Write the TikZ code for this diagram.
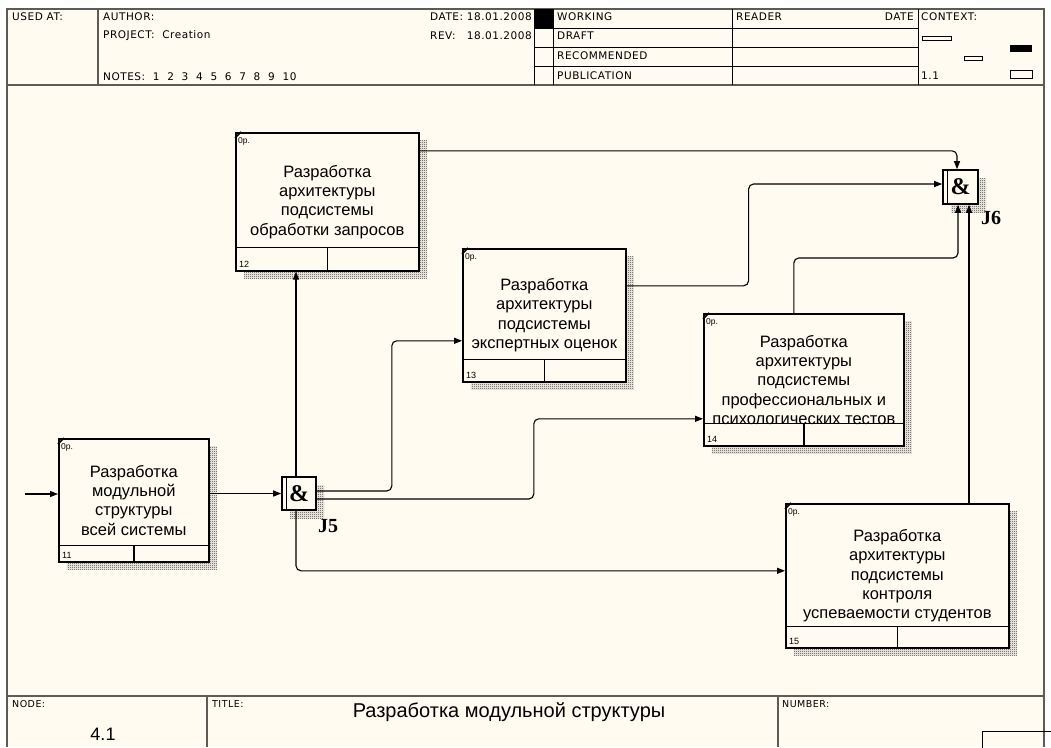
\documentclass[tikz,border=0pt]{standalone}
\usepackage{fontspec}
\setmainfont{Liberation Sans}
\newfontfamily\formfont{DejaVu Sans}[LetterSpace=5]
\newfontfamily\jfont{Liberation Serif}
\usepackage{tikz}
\usetikzlibrary{arrows.meta,calc,positioning,shadows,patterns.meta}
\definecolor{idefbg}{HTML}{FFFBF0}
\definecolor{framegray}{HTML}{5E5A55}

\tikzdeclarepattern{
  name=stipple,
  type=uncolored,
  bottom left={(0pt,0pt)},
  top right={(2pt,2pt)},
  tile size={(2pt,2pt)},
  code={
    \pgfpathrectangle{\pgfpointorigin}{\pgfpoint{1pt}{1pt}}
    \pgfpathrectangle{\pgfpoint{1pt}{1pt}}{\pgfpoint{1pt}{1pt}}
    \pgfusepath{fill}
  }
}

\tikzset{
  hatchshadow/.style={drop shadow={shadow xshift=8pt,shadow yshift=-8pt,opacity=1,
      pattern=stipple,pattern color=black!80}},
  actbox/.style={draw,line width=1.6pt,fill=idefbg,anchor=north west,inner sep=2pt,
      align=center,font=\fontsize{16.5}{19.3}\selectfont,hatchshadow},
  junc/.style={draw,line width=1.6pt,fill=idefbg,inner sep=0pt,
      font=\jfont\bfseries\fontsize{24}{24}\selectfont,hatchshadow},
  jlabel/.style={anchor=north west,inner sep=0pt,font=\jfont\bfseries\fontsize{20}{20}\selectfont},
  flow/.style={draw,line width=1.1pt,rounded corners=5pt,-{Triangle[length=8pt,width=6pt]}},
  frame/.style={draw=framegray,line width=1.8pt},
  tabline/.style={draw,line width=1pt},
  form/.style={anchor=west,inner sep=0pt,font=\formfont\fontsize{10.5}{12}\selectfont},
  foot/.style={anchor=west,inner sep=0pt,font=\formfont\fontsize{9.5}{11}\selectfont}
}

\begin{document}
\begin{tikzpicture}[x=1pt,y=-1pt]
  \useasboundingbox (0,0) rectangle (1051,747);
  \fill[white] (0,0) rectangle (1051,747);
  \fill[idefbg] (7,9) rectangle (1044,747);

  % form frame
  \draw[frame] (7,747) -- (7,9) -- (1044,9) -- (1044,747);
  \draw[frame] (7,85) -- (1044,85);
  \draw[frame] (7,696) -- (1044,696);
  \draw[frame] (98,9) -- (98,85);
  \draw[frame] (207,696) -- (207,747);
  \draw[frame] (778,696) -- (778,747);
  \fill (534,9) rectangle (553,28);
  \foreach \x in {534,553,732,918}
    \draw[tabline] (\x,9) -- (\x,85);
  \foreach \y in {28,47,66}
    \draw[tabline] (534,\y) -- (918,\y);
  \draw[tabline] (922,36) rectangle (951,40);
  \draw[tabline] (964,56) rectangle (982,60);
  \fill (1010,45) rectangle (1032,52);
  \draw[tabline] (1010,70) rectangle (1032,78);
  \draw[tabline] (982,731) rectangle (1060,760);

  \node[form] (usedat) at (12,17) {USED AT:};
  \node[form] (author) at (103,17) {AUTHOR:};
  \node[form] (project) at (103,36) {PROJECT:\ \ Creation};
  \node[form] (notes) at (103,77) {NOTES:\ \ 1\ \ 2\ \ 3\ \ 4\ \ 5\ \ 6\ \ 7\ \ 8\ \ 9\ \ 10};
  \node[form] (date) at (430,17) {DATE:};
  \node[form,anchor=east] (datev) at (532,17) {18.01.2008};
  \node[form] (rev) at (430,36) {REV:};
  \node[form,anchor=east] (revv) at (532,36) {18.01.2008};
  \node[form] (working) at (557,17) {WORKING};
  \node[form] (draft) at (557,36) {DRAFT};
  \node[form] (recomm) at (557,56) {RECOMMENDED};
  \node[form] (public) at (557,76) {PUBLICATION};
  \node[form] (reader) at (736,17) {READER};
  \node[form,anchor=east] (rdate) at (914,17) {DATE};
  \node[form] (context) at (921,17) {CONTEXT:};
  \node[form] (ctxnum) at (921,76) {1.1};

  \node[foot] (nodelbl) at (12,704) {NODE:};
  \node[foot] (titlelbl) at (212,704) {TITLE:};
  \node[foot] (numlbl) at (782,704) {NUMBER:};
  \node[inner sep=0pt,font=\fontsize{18}{18}\selectfont] (nodenum) at (103,734) {4.1};
  \node[inner sep=0pt,font=\fontsize{20}{20}\selectfont] (title) at (509,712) {Разработка модульной структуры};

  % activities
  \node[actbox,minimum width=150pt,minimum height=123pt] (b11) at (58,438)
    {Разработка\\модульной\\структуры\\всей системы};
  \node[actbox,minimum width=183pt,minimum height=138pt] (b12) at (235,132)
    {Разработка\\архитектуры\\подсистемы\\обработки запросов};
  \node[actbox,minimum width=163pt,minimum height=133pt] (b13) at (462,248)
    {Разработка\\архитектуры\\подсистемы\\экспертных оценок};
  \node[actbox,minimum width=200pt,minimum height=132pt] (b14) at (703,313)
    {Разработка\\архитектуры\\подсистемы\\профессиональных и\\психологических тестов};
  \node[actbox,minimum width=223pt,minimum height=144pt] (b15) at (785,503)
    {Разработка\\архитектуры\\подсистемы\\контроля\\успеваемости студентов};

  \foreach \b/\n/\d in {b11/11/17,b12/12/24,b13/13/23,b14/14/23,b15/15/22} {
    \draw[line width=1.6pt] ([yshift=\d pt]\b.south west) -- ([yshift=\d pt]\b.south east);
    \draw[line width=1.6pt] (\b.south) -- ([yshift=\d pt]\b.south);
    \draw[line width=1.6pt] ([yshift=-6pt]\b.north west) -- ([xshift=6pt]\b.north west);
    \node[anchor=west,inner sep=0pt,font=\fontsize{9}{9}\selectfont] (\b-num)
      at ([xshift=4pt,yshift=7pt]\b.south west) {\n};
    \node[anchor=west,inner sep=0pt,font=\fontsize{8.5}{9}\selectfont] (\b-cost)
      at ([xshift=3pt,yshift=-9pt]\b.north west) {0р.};
  }

  % junctions
  \node[junc,minimum width=34pt,minimum height=33pt] (j5) at (299,493.5) {\&};
  \node[junc,minimum width=35pt,minimum height=34pt] (j6) at (960.5,187) {\&};
  \foreach \j in {j5,j6}
    \draw[line width=1.3pt] ([xshift=5pt]\j.north west) -- ([xshift=5pt]\j.south west);
  \node[jlabel] (j5-lbl) at ([xshift=1pt,yshift=-8pt]j5.south east) {J5};
  \node[jlabel] (j6-lbl) at ([xshift=2pt,yshift=-6pt]j6.south east) {J6};

  % arrows
  \coordinate (in0) at (25,494);
  \draw[flow] (in0) -- (b11.west |- in0);
  \draw[flow] (b11.east |- j5.west) -- (j5.west);
  \draw[flow] ([xshift=-3pt]j5.north) -- ([xshift=-3pt]j5.north |- b12.south);
  \draw[flow] ([xshift=-3pt]j5.south) |- ([yshift=5pt]b15.west);
  \draw[flow] ([yshift=2.5pt]j5.east) -- ++(75,0) |- ([yshift=-25.5pt]b13.west);
  \draw[flow] ([yshift=-5.5pt]j5.east) -- ++(217,0) |- ([yshift=-39pt]b14.west);
  \draw[flow] ([yshift=51pt]b12.east) -| ([xshift=-3.5pt]j6.north);
  \draw[flow] ([yshift=29.5pt]b13.east) -- ++(122,0) |- ([yshift=3pt]j6.west);
  \draw[flow] ([xshift=-10pt]b14.north) -- ++(0,-55) -| ([xshift=-2.5pt]j6.south);
  \draw[flow] ([xshift=8.5pt]j6.south |- b15.north) -- ([xshift=8.5pt]j6.south);
\end{tikzpicture}
\end{document}
